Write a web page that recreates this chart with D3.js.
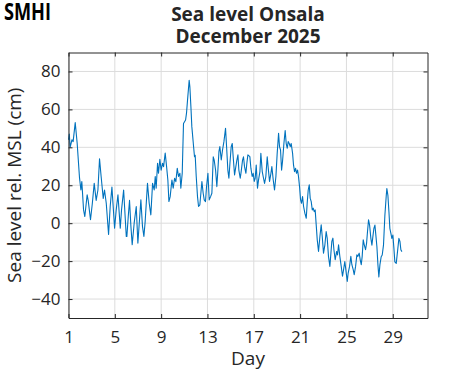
<!DOCTYPE html>
<html>
<head>
<meta charset="utf-8">
<script src="https://cdn.jsdelivr.net/npm/d3@7"></script>
<style>
  body { margin: 0; background: #fff; }
  text { font-family: "Open Sans", sans-serif; fill: #262626; }
</style>
</head>
<body>
<div id="chart"></div>
<script>
// Data (day of month, sea level in cm)
var days = [
  1.00, 1.07, 1.14, 1.22, 1.30, 1.40, 1.58, 1.75, 1.95, 2.07, 2.15, 2.30, 2.41, 2.61, 2.70, 2.90,
  3.05, 3.22, 3.39, 3.54, 3.68, 3.82, 4.00, 4.11, 4.26, 4.46, 4.60, 4.75, 4.98, 5.12, 5.27, 5.47,
  5.58, 5.76, 5.99, 6.04, 6.16, 6.27, 6.39, 6.50, 6.67, 6.85, 6.99, 7.11, 7.25, 7.39, 7.51, 7.62,
  7.82, 7.97, 8.11, 8.26, 8.40, 8.49, 8.57, 8.69, 8.77, 8.89, 9.00, 9.12, 9.21, 9.35, 9.47, 9.58,
  9.67, 9.78, 9.93, 10.04, 10.16, 10.27, 10.39, 10.50, 10.62, 10.70, 10.82, 10.93, 11.02, 11.11, 11.19, 11.28,
  11.42, 11.48, 11.57, 11.65, 11.80, 11.88, 11.94, 12.03, 12.14, 12.23, 12.34, 12.43, 12.52, 12.63, 12.72, 12.83,
  12.92, 13.04, 13.15, 13.27, 13.38, 13.50, 13.58, 13.70, 13.81, 13.90, 13.99, 14.07, 14.19, 14.30, 14.42, 14.56,
  14.65, 14.76, 14.85, 14.94, 15.05, 15.14, 15.22, 15.34, 15.45, 15.54, 15.63, 15.71, 15.83, 15.91, 16.03, 16.11,
  16.20, 16.32, 16.40, 16.49, 16.66, 16.75, 16.86, 16.95, 17.04, 17.12, 17.21, 17.32, 17.41, 17.53, 17.61, 17.73,
  17.84, 17.93, 18.04, 18.16, 18.25, 18.36, 18.48, 18.56, 18.68, 18.79, 18.91, 19.02, 19.14, 19.22, 19.31, 19.40,
  19.48, 19.60, 19.71, 19.80, 19.89, 19.97, 20.06, 20.15, 20.23, 20.35, 20.43, 20.52, 20.61, 20.69, 20.78, 20.86,
  20.95, 21.04, 21.12, 21.21, 21.30, 21.41, 21.53, 21.61, 21.70, 21.79, 21.87, 21.96, 22.05, 22.13, 22.22, 22.30,
  22.39, 22.48, 22.59, 22.71, 22.82, 22.91, 23.02, 23.14, 23.25, 23.34, 23.45, 23.57, 23.66, 23.74, 23.83, 23.92,
  24.03, 24.15, 24.23, 24.32, 24.43, 24.55, 24.66, 24.75, 24.86, 24.95, 25.07, 25.15, 25.27, 25.38, 25.47, 25.59,
  25.67, 25.79, 25.90, 25.99, 26.10, 26.19, 26.28, 26.36, 26.45, 26.54, 26.65, 26.74, 26.82, 26.91, 27.00, 27.11,
  27.20, 27.28, 27.37, 27.46, 27.54, 27.63, 27.72, 27.80, 27.89, 28.00, 28.09, 28.20, 28.32, 28.44, 28.49, 28.58,
  28.67, 28.75, 28.84, 28.92, 29.01, 29.10, 29.18, 29.30, 29.41, 29.53, 29.62, 29.70, 29.79
];
var seaLevel = [
  44, 47, 40, 42, 44, 43, 53, 42, 24, 17.5, 22, 7, 3.5, 15, 12, 1.8,
  10, 21, 12, 17.5, 34, 24.5, 13, 17.5, 10.5, -6, 8.8, 19, -2.6, 7, 15, -2.6,
  7, 17.5, -7, -7, 3.5, 12, -1.8, -11.4, 0, 8.8, -10.5, 0, 12.3, -1.8, -7, 0.9,
  21, 10.5, 4.4, 21, 17.5, 24.6, 18.4, 31.6, 26.3, 33.7, 28, 31.6, 29.8, 37, 29.8, 22.8,
  11.4, 14, 22.8, 18.4, 23.7, 21.9, 29, 24.6, 26.3, 18.4, 26.3, 52.6, 53.5, 54.4, 58, 65,
  75.4, 71.9, 61.4, 50.9, 40.4, 35, 35.8, 24.6, 14, 8.8, 9.6, 15.8, 21.9, 15.8, 12.3, 11.4,
  19.3, 26.3, 12.3, 14, 15.8, 35, 33.3, 28, 19.3, 28, 37.7, 40.4, 33.3, 38.6, 43, 50,
  40.4, 28, 23.7, 31.6, 40.4, 42, 35, 25.4, 29.8, 33.3, 36, 28, 23.7, 27.2, 33.3, 35,
  29.8, 26.3, 31.6, 36, 35.1, 29, 24.6, 26.3, 22, 23.7, 30.7, 18.4, 22.8, 27.2, 36.8, 27.2,
  23.7, 21, 24.6, 35, 28.9, 22, 26.3, 29.8, 22.8, 17.5, 24.6, 36.8, 47.4, 40.4, 38.6, 28,
  32.5, 42, 48.8, 42, 39.5, 43, 42, 40.4, 42, 36.8, 30.7, 27.2, 28.9, 26.3, 28, 24.6,
  19.3, 12.3, 10.5, 14, 8.8, 5.3, 2.6, 10.5, 17.5, 20.2, 13.2, 11.4, 7, 7.9, 6.1, 7,
  -0.9, -8.8, -14.9, -7, -0.9, -7, -15.8, -11.4, -4.4, -7.9, -17.5, -22.8, -15.8, -9.6, -7.9, -14,
  -19.3, -14.9, -16.7, -11.4, -17.5, -22.8, -28, -24.6, -20.2, -24.6, -30.7, -26.3, -22.8, -17.5, -21.9, -24.6,
  -27.2, -22.8, -16.7, -17.5, -15.8, -19.3, -21.9, -17.5, -8.8, -11.4, -14, -10.5, -4.4, 1.8, -1, -8,
  -11.6, -7.2, -2.8, -1, -6.3, -12.3, -22, -28.4, -22, -17.7, -16.8, -11.6, 4.2, 14.7, 18.2, 14.7,
  6, -2.8, -5.4, -8, -6.3, -13.3, -20.4, -21.2, -15, -8, -9.6, -14, -15
];
var xTicks = [1, 5, 9, 13, 17, 21, 25, 29];
var yTicks = [-40, -20, 0, 20, 40, 60, 80];
var titleLines = ["Sea level Onsala", "December 2025"];

// Set up chart area
var svgWidth = 471;
var svgHeight = 371;
var margin = { top: 52.5, right: 43.5, bottom: 53, left: 68.5 };
var width = svgWidth - margin.left - margin.right;
var height = svgHeight - margin.top - margin.bottom;

var svg = d3.select("#chart")
  .append("svg")
  .attr("width", svgWidth)
  .attr("height", svgHeight);

var chartGroup = svg.append("g")
  .attr("transform", `translate(${margin.left}, ${margin.top})`);

var xScale = d3.scaleLinear().domain([1, 32]).range([0, width]);
var yScale = d3.scaleLinear().domain([-50, 90]).range([height, 0]);

// grid lines
chartGroup.selectAll(".xgrid")
  .data(xTicks)
  .enter()
  .append("line")
  .attr("x1", d => xScale(d)).attr("x2", d => xScale(d))
  .attr("y1", 0).attr("y2", height)
  .attr("stroke", "#dcdcdc")
  .attr("stroke-width", 1);

chartGroup.selectAll(".ygrid")
  .data(yTicks)
  .enter()
  .append("line")
  .attr("x1", 0).attr("x2", width)
  .attr("y1", d => yScale(d)).attr("y2", d => yScale(d))
  .attr("stroke", "#dcdcdc")
  .attr("stroke-width", 1);

// sea level line
var points = days.map((d, i) => [d, seaLevel[i]]);
var line = d3.line()
  .x(d => xScale(d[0]))
  .y(d => yScale(d[1]));

chartGroup.append("path")
  .datum(points)
  .attr("d", line)
  .attr("fill", "none")
  .attr("stroke", "#0072bd")
  .attr("stroke-width", 1.1)
  .attr("stroke-linejoin", "round");

// axes (ticks point inward, box on all four sides)
var fmt = d => String(d).replace("-", "\u2212");

var bottomAxis = chartGroup.append("g")
  .attr("transform", `translate(0, ${height})`)
  .call(d3.axisBottom(xScale).tickValues(xTicks).tickSize(-4).tickPadding(13).tickSizeOuter(0));

var leftAxis = chartGroup.append("g")
  .call(d3.axisLeft(yScale).tickValues(yTicks).tickFormat(fmt).tickSize(-4).tickPadding(8).tickSizeOuter(0));

var topAxis = chartGroup.append("g")
  .call(d3.axisTop(xScale).tickValues(xTicks).tickFormat("").tickSize(-4).tickSizeOuter(0));

var rightAxis = chartGroup.append("g")
  .attr("transform", `translate(${width}, 0)`)
  .call(d3.axisRight(yScale).tickValues(yTicks).tickFormat("").tickSize(-4).tickSizeOuter(0));

chartGroup.selectAll(".domain, .tick line")
  .attr("stroke", "#262626");

chartGroup.selectAll(".tick text")
  .attr("font-size", "17px")
  .attr("font-family", "Open Sans, sans-serif")
  .attr("fill", "#262626");

// axis labels
chartGroup.append("text")
  .attr("x", width / 2)
  .attr("y", height + 46.5)
  .attr("text-anchor", "middle")
  .attr("font-size", "19px")
  .text("Day");

chartGroup.append("text")
  .attr("transform", "rotate(-90)")
  .attr("x", -height / 2)
  .attr("y", -47.5)
  .attr("text-anchor", "middle")
  .attr("font-size", "19px")
  .text("Sea level rel. MSL (cm)");

// title
svg.selectAll(".title")
  .data(titleLines)
  .enter()
  .append("text")
  .attr("x", margin.left + width / 2)
  .attr("y", (d, i) => 20.5 + i * 22.6)
  .attr("text-anchor", "middle")
  .attr("font-size", "19px")
  .attr("font-weight", "bold")
  .text(d => d);

// SMHI logo text
svg.append("text")
  .attr("transform", "translate(4, 20.3) scale(1, 1.2)")
  .attr("font-family", "Liberation Sans Narrow, Liberation Sans, sans-serif")
  .attr("font-weight", "bold")
  .attr("font-size", "19px")
  .attr("textLength", 47)
  .attr("lengthAdjust", "spacingAndGlyphs")
  .style("fill", "#000")
  .text("SMHI");
</script>
</body>
</html>
